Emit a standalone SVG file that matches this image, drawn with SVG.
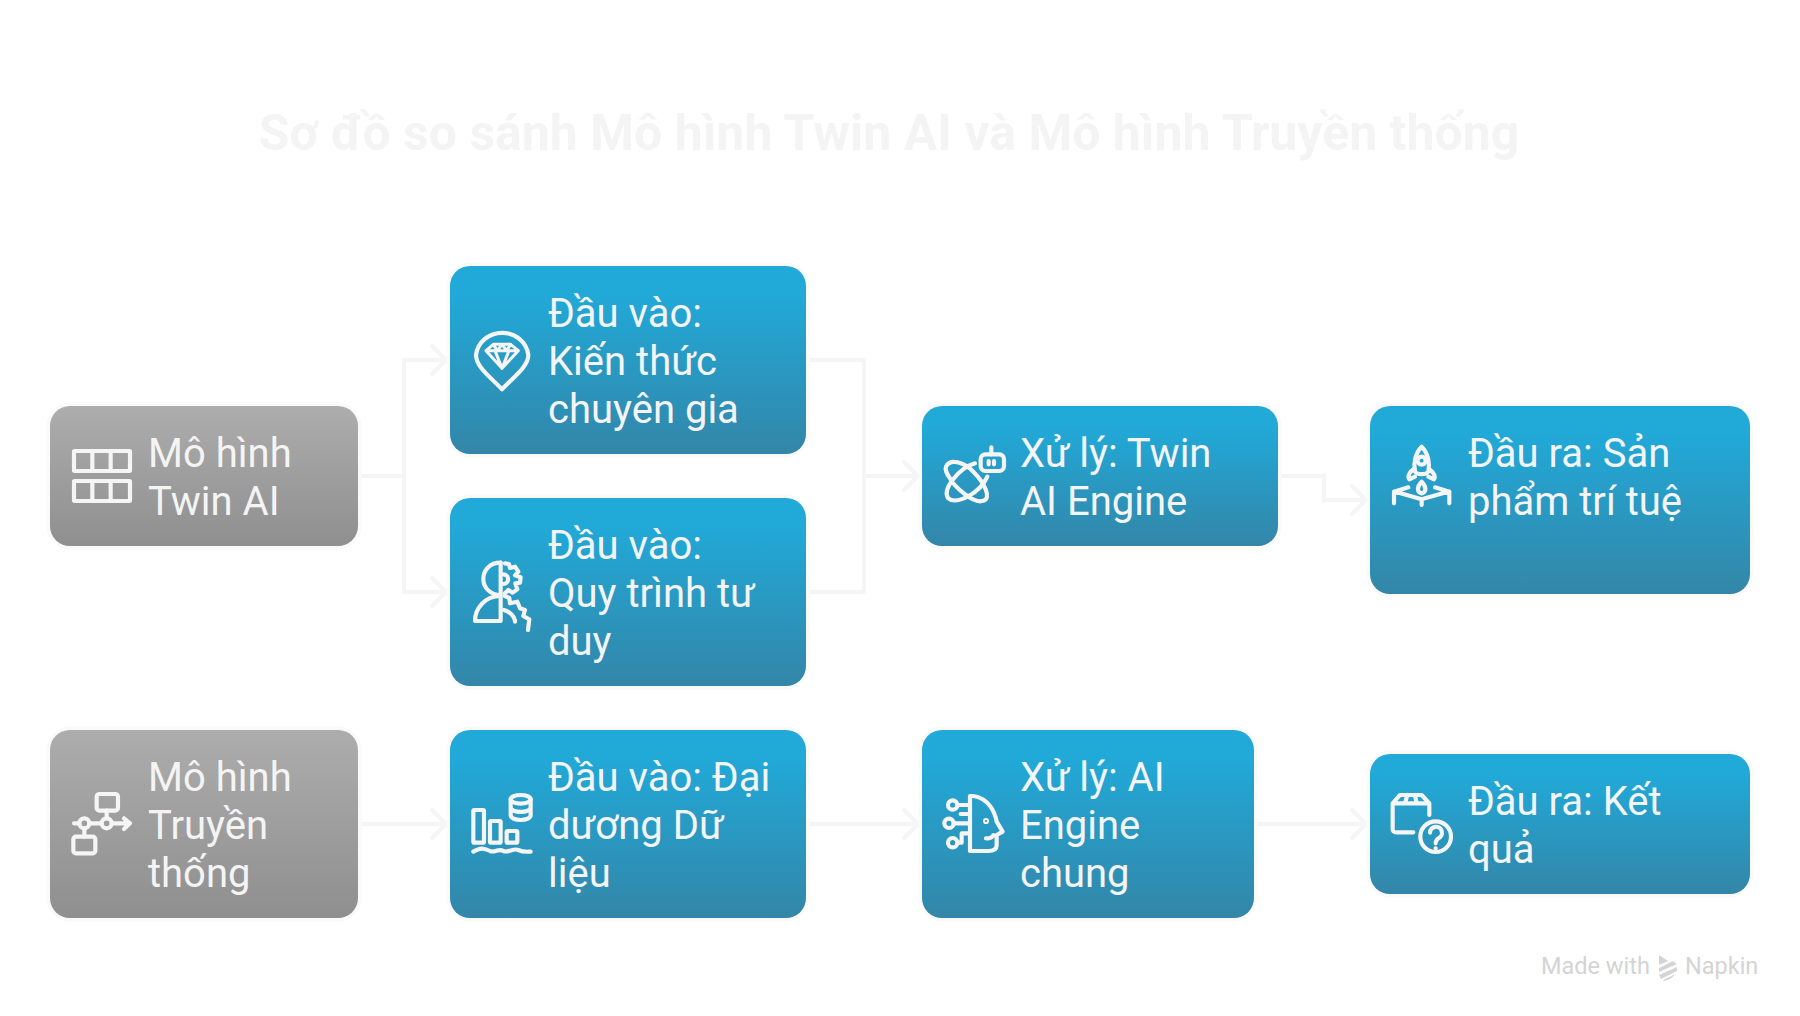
<svg xmlns="http://www.w3.org/2000/svg" width="1800" height="1016" viewBox="0 0 1800 1016">
<style>
.b{fill:url(#blue);stroke:#fafafa;stroke-width:7;paint-order:stroke}
.g{fill:url(#gray);stroke:#fafafa;stroke-width:7;paint-order:stroke}
.t{font-family:Roboto,"Noto Sans",sans-serif;font-size:40px;fill:#f4f4f4}
.i{fill:none;stroke:#f5f5f5;stroke-width:12.5;stroke-linecap:round;stroke-linejoin:round}
.c{fill:none;stroke:#f5f5f5;stroke-width:4;marker-end:url(#arr)}
.n{fill:none;stroke:#f5f5f5;stroke-width:4}
.w{font-family:Roboto,"Noto Sans",sans-serif;font-size:23.5px;fill:#d4d4d4}
</style>
<defs>
<linearGradient id="blue" x1="0" y1="0" x2="0" y2="1"><stop offset="0" stop-color="#21a9d8"/><stop offset=".15" stop-color="#21a9d8"/><stop offset="1" stop-color="#3386a8"/></linearGradient>
<linearGradient id="gray" x1="0" y1="0" x2="0" y2="1"><stop offset="0" stop-color="#adadad"/><stop offset="1" stop-color="#8f8f8f"/></linearGradient>
<marker id="arr" markerUnits="userSpaceOnUse" markerWidth="24" markerHeight="36" refX="19" refY="18" orient="auto" overflow="visible"><path d="M5 4 L19 18 L5 32" fill="none" stroke="#f5f5f5" stroke-width="4" stroke-linecap="round" stroke-linejoin="round"/></marker>
</defs>
<rect width="1800" height="1016" fill="#fff"/>
<text id="title" x="889" y="150" text-anchor="middle" font-family="Roboto,'Noto Sans',sans-serif" font-size="50" font-weight="700" fill="#f4f4f4">Sơ đồ so sánh Mô hình Twin AI và Mô hình Truyền thống</text>
<g id="connectors">
<path class="n" d="M358 476H404"/>
<path class="c" d="M404 476V360H446"/>
<path class="c" d="M404 476V592H446"/>
<path class="n" d="M806 360H864V592H806"/>
<path class="c" d="M864 476H918"/>
<path class="c" d="M1278 476H1324V500H1366"/>
<path class="c" d="M358 824H446"/>
<path class="c" d="M806 824H918"/>
<path class="c" d="M1254 824H1366"/>
</g>
<g id="n-twin">
<rect class="g" x="50" y="406" width="308" height="140" rx="20"/>
<g transform="translate(50 406) scale(.3333)" class="i"><rect x="72" y="135" width="168" height="60" rx="2"/><rect x="72" y="225" width="168" height="60" rx="2"/><path d="M127 135V195M182 135V195M127 225V285M182 225V285"/></g>
<text class="t" x="148" y="466.5">Mô hình</text><text class="t" x="148" y="514.5">Twin AI</text>
</g>
<g id="n-input1">
<rect class="b" x="450" y="266" width="356" height="188" rx="20"/>
<g transform="translate(440 310) scale(.3333)" class="i"><path d="M186 238C150 200 108 170 108 135A79 75 0 0 1 265 135C265 170 222 200 186 238Z"/><path style="stroke-width:9" d="M138 122L160 103H212L235 122L186 175ZM138 122H235M165 122L186 175L207 122M160 103L172 122L186 103L200 122L212 103"/></g>
<text class="t" x="548" y="326.5">Đầu vào:</text><text class="t" x="548" y="374.5">Kiến thức</text><text class="t" x="548" y="422.5">chuyên gia</text>
</g>
<g id="n-input2">
<rect class="b" x="450" y="498" width="356" height="188" rx="20"/>
<g transform="translate(440 540) scale(.3333)" class="i"><path d="M182 68V243H105C105 205 135 168 182 168"/><path d="M182 68C150 68 130 90 130 117C130 142 150 165 182 165"/><path d="M195 70L207 72L210 84L225 80L235 95L225 106L242 112L240 128L226 130L232 148L218 158L205 150L195 160"/><path d="M190 103A14 14 0 0 1 190 132"/><path d="M195 168L208 174L210 190L232 185L240 205L255 210L250 228L268 238L264 270"/><path d="M192 210C210 215 225 230 225 245"/></g>
<text class="t" x="548" y="558.5">Đầu vào:</text><text class="t" x="548" y="606.5">Quy trình tư</text><text class="t" x="548" y="654.5">duy</text>
</g>
<g id="n-process1">
<rect class="b" x="922" y="406" width="356" height="140" rx="20"/>
<g transform="translate(930 430) scale(.3333)" class="i"><rect x="152" y="73" width="70" height="50" rx="14"/><path d="M184 52V73M176 93V103M192 93V103"/><path d="M135 100C85 115 35 180 55 205C80 225 150 190 172 140"/><path d="M48 110C60 85 100 95 130 125C165 160 185 205 160 212C130 225 70 165 60 145C50 130 44 120 48 110Z"/></g>
<text class="t" x="1020" y="466.5">Xử lý: Twin</text><text class="t" x="1020" y="514.5">AI Engine</text>
</g>
<g id="n-output1">
<rect class="b" x="1370" y="406" width="380" height="188" rx="20"/>
<g transform="translate(1370 430) scale(.3333)" class="i"><path d="M155 50C135 70 130 100 135 125C140 135 170 135 175 125C180 100 175 70 155 50Z"/><circle cx="155" cy="92" r="12"/><path d="M130 118C118 125 112 140 118 148L135 140M178 118C190 125 198 140 192 148L175 140"/><path d="M155 155C140 170 140 188 155 190C170 188 170 170 155 155Z"/><path d="M72 220V185L115 172M72 185L92 190L155 208L218 190L238 185V220M155 208V225M238 185L195 172"/></g>
<text class="t" x="1468" y="466.5">Đầu ra: Sản</text><text class="t" x="1468" y="514.5">phẩm trí tuệ</text>
</g>
<g id="n-trad">
<rect class="g" x="50" y="730" width="308" height="188" rx="20"/>
<g transform="translate(50 770) scale(.3333)" class="i"><rect x="140" y="72" width="64" height="50" rx="8"/><rect x="70" y="200" width="66" height="50" rx="8"/><circle cx="103" cy="160" r="15"/><circle cx="170" cy="160" r="15"/><path d="M72 160H88M118 160H155M185 160H240M222 145L240 160L222 177M170 122V145M103 175V200"/></g>
<text class="t" x="148" y="790.5">Mô hình</text><text class="t" x="148" y="838.5">Truyền</text><text class="t" x="148" y="886.5">thống</text>
</g>
<g id="n-input3">
<rect class="b" x="450" y="730" width="356" height="188" rx="20"/>
<g transform="translate(450 770) scale(.3333)" class="i"><rect x="70" y="120" width="32" height="98" rx="3"/><rect x="120" y="153" width="32" height="65" rx="3"/><rect x="170" y="183" width="32" height="35" rx="3"/><path d="M70 245C90 233 100 233 120 243C135 250 145 233 160 243C175 250 190 233 205 240C220 247 230 245 242 245"/><ellipse cx="212" cy="88" rx="30" ry="13"/><path d="M182 88V135C182 155 242 155 242 135V88M182 112C182 130 242 130 242 112"/></g>
<text class="t" x="548" y="790.5">Đầu vào: Đại</text><text class="t" x="548" y="838.5">dương Dữ</text><text class="t" x="548" y="886.5">liệu</text>
</g>
<g id="n-process2">
<rect class="b" x="922" y="730" width="332" height="188" rx="20"/>
<g transform="translate(930 770) scale(.3333)" class="i"><path d="M120 78H130C175 85 195 125 200 155L218 185L200 195V225C200 240 185 243 175 243H120Z"/><circle cx="168" cy="153" r="3"/><path d="M168 205C178 207 190 200 190 195"/><circle cx="68" cy="105" r="14"/><circle cx="57" cy="160" r="14"/><circle cx="68" cy="218" r="14"/><path d="M82 105H120M92 132H120M71 160H120M82 218H95V190H120"/></g>
<text class="t" x="1020" y="790.5">Xử lý: AI</text><text class="t" x="1020" y="838.5">Engine</text><text class="t" x="1020" y="886.5">chung</text>
</g>
<g id="n-output2">
<rect class="b" x="1370" y="754" width="380" height="140" rx="20"/>
<g transform="translate(1370 770) scale(.3333)" class="i"><path d="M68 100L90 75H155L178 100V135M68 100V178C68 185 72 187 80 187H130M68 100H178M112 75L105 100M135 75L140 100"/><circle cx="197" cy="200" r="46"/><path d="M180 188A18 18 0 1 1 205 205C198 210 197 212 197 220M197 235V236"/></g>
<text class="t" x="1468" y="814.5">Đầu ra: Kết</text><text class="t" x="1468" y="862.5">quả</text>
</g>
<g id="watermark">
<text class="w" x="1541" y="974">Made with</text>
<path fill="#d4d4d4" d="M1659 955L1668 961L1659 965ZM1659 968L1673 961L1677 964L1659 972ZM1659 975L1677 967L1677 971L1661 979ZM1663 980L1676 974L1670 979L1664 981Z"/>
<text class="w" x="1685" y="974">Napkin</text>
</g>
</svg>
